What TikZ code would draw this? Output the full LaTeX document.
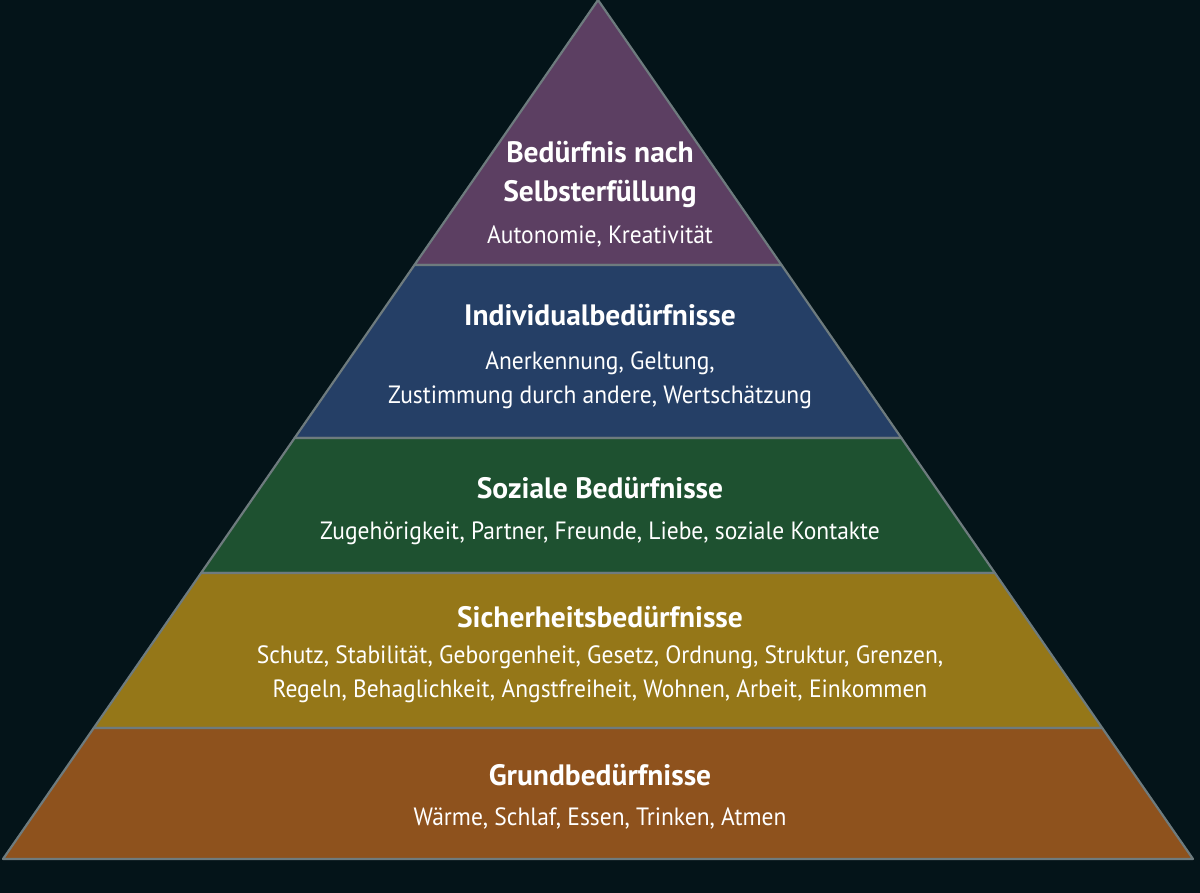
\documentclass[tikz,border=0pt]{standalone}
\usepackage{fontspec}
\setmainfont{PT Sans}
\newfontfamily\bodyfont{PT Sans}[FakeStretch=0.94]
\definecolor{bg}{HTML}{041419}
\definecolor{edge}{HTML}{6E7B7E}
\definecolor{c1}{HTML}{5C3F62}
\definecolor{c2}{HTML}{253F66}
\definecolor{c3}{HTML}{1E5130}
\definecolor{c4}{HTML}{957718}
\definecolor{c5}{HTML}{8E521D}
\begin{document}
\begin{tikzpicture}[x=1pt,y=-1pt,
  lay/.style={draw=edge,line width=2.2pt,line join=round},
  ttl/.style={text=white,font=\bfseries\fontsize{29.5}{39}\selectfont,align=center},
  bod/.style={text=white,font=\bodyfont\fontsize{25}{34.5}\selectfont,align=center}]
\fill[bg] (0,0) rectangle (1200,893);
\useasboundingbox (0,0) rectangle (1200,893);
\def\lx#1{598-0.69267*#1}
\def\rx#1{598+0.69267*#1}
\fill[c1,lay] (598,0) -- ({\rx{265}},265) -- ({\lx{265}},265) -- cycle;
\fill[c2,lay] ({\lx{265}},265) -- ({\rx{265}},265) -- ({\rx{438}},438) -- ({\lx{438}},438) -- cycle;
\fill[c3,lay] ({\lx{438}},438) -- ({\rx{438}},438) -- ({\rx{573}},573) -- ({\lx{573}},573) -- cycle;
\fill[c4,lay] ({\lx{573}},573) -- ({\rx{573}},573) -- ({\rx{728}},728) -- ({\lx{728}},728) -- cycle;
\fill[c5,lay] ({\lx{728}},728) -- ({\rx{728}},728) -- ({\rx{859}},859) -- ({\lx{859}},859) -- cycle;
\node[ttl] (t1) at (600,174) {Bedürfnis nach\\Selbsterfüllung};
\node[bod] (b1) at (600,236) {Autonomie, Kreativität};
\node[ttl] (t2) at (600,315) {Individualbedürfnisse};
\node[bod] (b2) at (600,380) {Anerkennung, Geltung,\\Zustimmung durch andere, Wertschätzung};
\node[ttl] (t3) at (600,488) {Soziale Bedürfnisse};
\node[bod] (b3) at (600,533) {Zugehörigkeit, Partner, Freunde, Liebe, soziale Kontakte};
\node[ttl] (t4) at (600,617) {Sicherheitsbedürfnisse};
\node[bod] (b4) at (600,674) {Schutz, Stabilität, Geborgenheit, Gesetz, Ordnung, Struktur, Grenzen,\\Regeln, Behaglichkeit, Angstfreiheit, Wohnen, Arbeit, Einkommen};
\node[ttl] (t5) at (600,775) {Grundbedürfnisse};
\node[bod] (b5) at (600,818) {Wärme, Schlaf, Essen, Trinken, Atmen};
\end{tikzpicture}
\end{document}
